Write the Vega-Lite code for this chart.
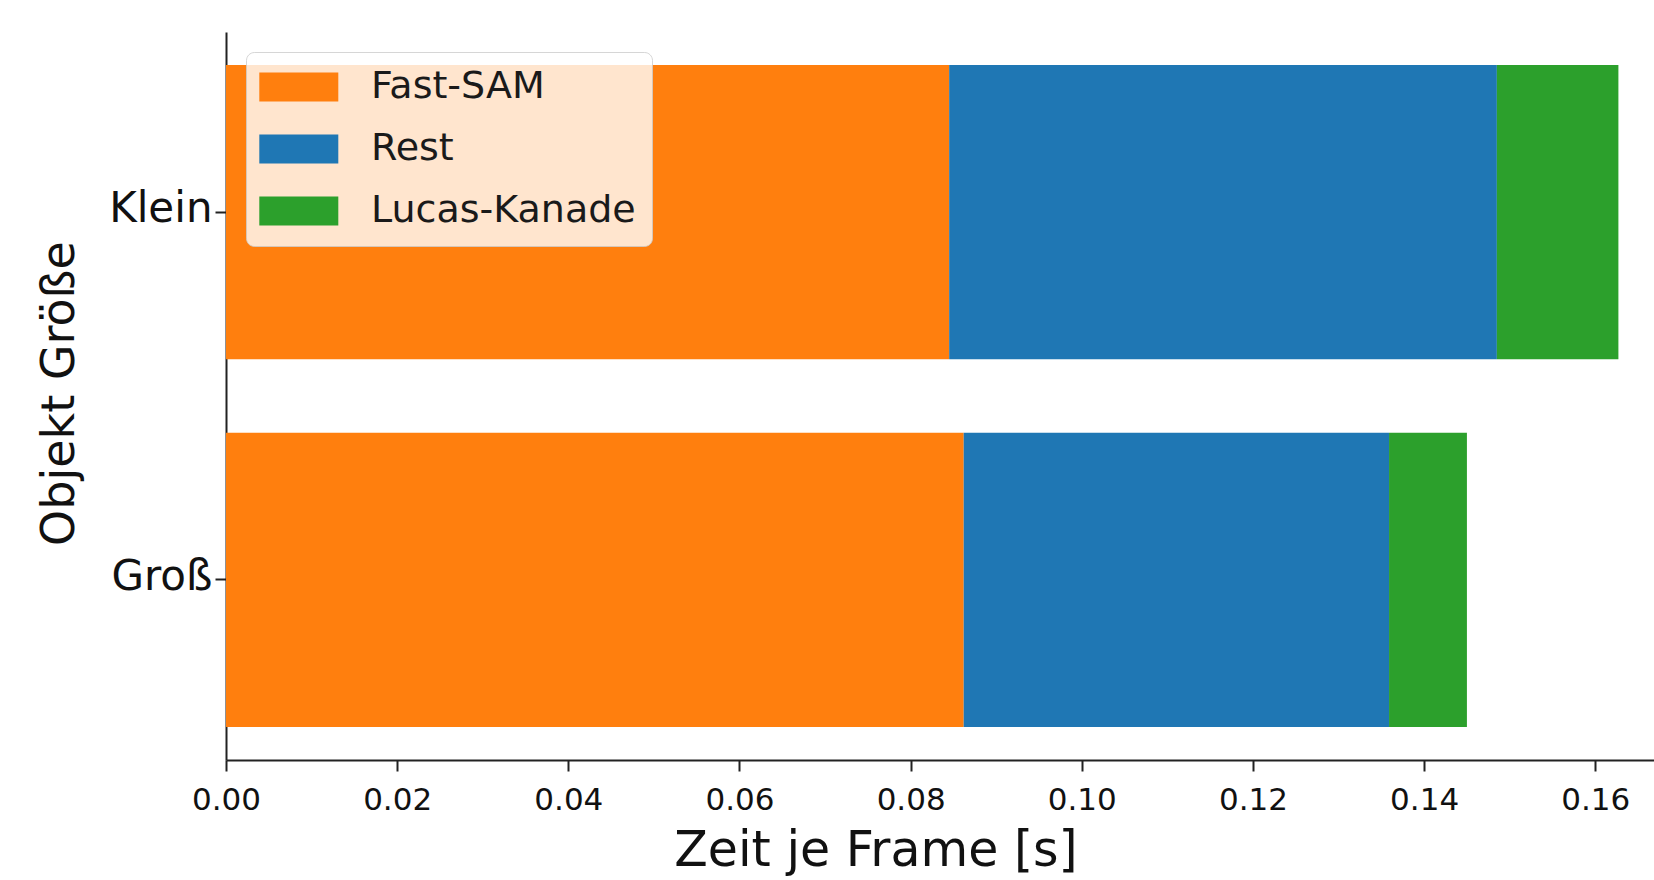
{
  "$schema": "https://vega.github.io/schema/vega-lite/v6.json",
  "autosize": {"type": "none"},
  "padding": {"left": 226, "top": 32, "right": 0, "bottom": 120},
  "width": 1428,
  "height": 728,
  "background": "white",
  "config": {
    "font": "DejaVu Sans",
    "view": {"stroke": null},
    "axis": {"grid": false, "domainColor": "#222", "domainWidth": 2, "tickColor": "#222", "tickWidth": 2, "tickSize": 11, "labelColor": "#111", "titleColor": "#111", "titleFontWeight": "normal", "labelFont": "DejaVu Sans", "titleFont": "DejaVu Sans"}
  },
  "data": {
    "values": [
      {"groesse": "Klein", "teil": "Fast-SAM", "zeit": 0.0845},
      {"groesse": "Klein", "teil": "Rest", "zeit": 0.0640},
      {"groesse": "Klein", "teil": "Lucas-Kanade", "zeit": 0.0142},
      {"groesse": "Groß", "teil": "Fast-SAM", "zeit": 0.0862},
      {"groesse": "Groß", "teil": "Rest", "zeit": 0.0497},
      {"groesse": "Groß", "teil": "Lucas-Kanade", "zeit": 0.0091}
    ]
  },
  "mark": {"type": "bar", "cornerRadius": 0},
  "encoding": {
    "y": {
      "field": "groesse", "type": "nominal", "sort": ["Klein", "Groß"],
      "scale": {"paddingInner": 0.2, "paddingOuter": 0.09},
      "axis": {"title": "Objekt Größe", "titleFontSize": 46, "titleAngle": -90, "titleBaseline": "alphabetic", "titleX": -153, "titleY": 361, "titleAlign": "center", "labelFontSize": 42, "labelPadding": 3, "labelBaseline": "middle", "labelOffset": -3}
    },
    "x": {
      "field": "zeit", "type": "quantitative", "stack": "zero",
      "scale": {"domain": [0, 0.16686], "nice": false, "zero": true},
      "axis": {"title": "Zeit je Frame [s]", "titleFontSize": 49, "titleBaseline": "alphabetic", "titleX": 649.5, "titleY": 105, "titleAlign": "center", "values": [0, 0.02, 0.04, 0.06, 0.08, 0.1, 0.12, 0.14, 0.16], "format": ".2f", "labelFontSize": 31, "labelBaseline": "alphabetic", "labelPadding": 38, "labelFlush": false, "labelOverlap": false}
    },
    "color": {
      "field": "teil", "type": "nominal", "sort": ["Fast-SAM", "Rest", "Lucas-Kanade"],
      "scale": {"domain": ["Fast-SAM", "Rest", "Lucas-Kanade"], "range": ["#ff7f0e", "#1f77b4", "#2ca02c"]},
      "legend": {"title": null, "orient": "top-left", "offset": 20, "symbolType": "M-1.142,-0.763H3.016V0.763H-1.142Z", "symbolSize": 1444, "symbolOpacity": 1, "symbolStrokeWidth": 0, "labelFontSize": 38, "labelFont": "DejaVu Sans", "labelColor": "#1a1a1a", "labelOffset": 71, "labelLimit": 500, "padding": 16, "rowPadding": 24, "fillColor": "rgba(255,255,255,0.8)", "strokeColor": "rgba(204,204,204,0.8)", "cornerRadius": 8}
    },
    "order": {"field": "zeit", "type": "quantitative", "sort": "descending"}
  }
}
